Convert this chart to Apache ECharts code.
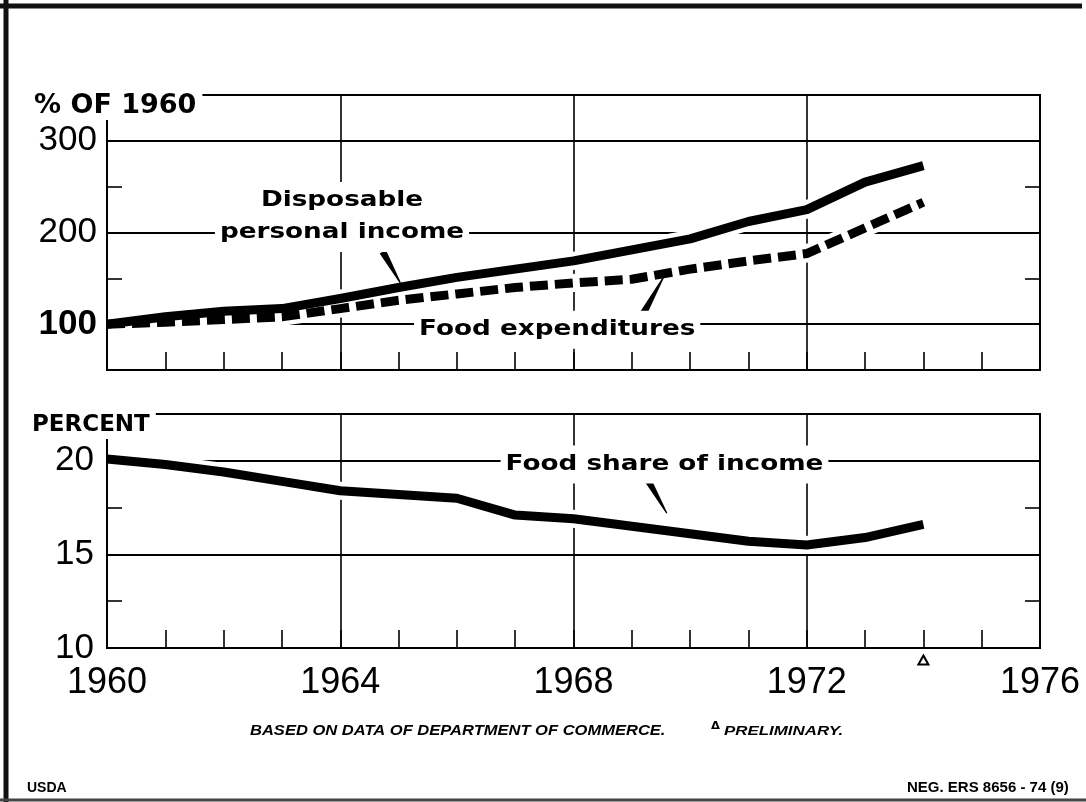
<!DOCTYPE html>
<html>
<head>
<meta charset="utf-8">
<script src="https://cdn.jsdelivr.net/npm/echarts@6/dist/echarts.min.js"></script>
<style>
html,body{margin:0;padding:0;background:#fff;}
#chart{width:1086px;height:802px;}
</style>
</head>
<body>
<div id="chart"></div>
<script>
// ---- data ----
var years = [1960,1961,1962,1963,1964,1965,1966,1967,1968,1969,1970,1971,1972,1973,1974];
var incomeIndex = [100,108,114,117,128,140,151,160,169,181,193,212,225,255,273];
var foodIndex   = [100,102,105,108,117,126,133,140,145,149,160,169,177,205,233];
var foodShare   = [20.1,19.8,19.4,18.9,18.4,18.2,18.0,17.1,16.9,16.5,16.1,15.7,15.5,15.9,16.6];
var xTickLabels = [1960,1964,1968,1972,1976];
var topAxisLabels = [100,200,300];
var bottomAxisLabels = [10,15,20];
var preliminaryYear = 1974;
// annotation anchor points (data coordinates) and texts
var topNotes = [[1964.03,217,'Disposable\npersonal income'],[1967.72,94,'Food expenditures']];
var bottomNotes = [[1969.56,19.8,'Food share of income']];
var topPointers = [[1964.73,179,1965.03,145],[1969.2,112,1969.55,152]];
var bottomPointers = [[1969.27,19.0,1969.6,17.2]];

function pairs(xs, ys){ return xs.map(function(x,i){ return [x, ys[i]]; }); }

var chart = echarts.init(document.getElementById('chart'), null, {renderer:'canvas'});
var BLACK = '#000';
var NUM = "'Liberation Sans', Arial, sans-serif";

function wedge(params, api){
  var a = api.coord([api.value(0), api.value(1)]);
  var b = api.coord([api.value(2), api.value(3)]);
  var dx=b[0]-a[0], dy=b[1]-a[1], L=Math.sqrt(dx*dx+dy*dy)||1;
  var nx=-dy/L, ny=dx/L, w1=3.6, w2=0.6;
  return {type:'polygon', shape:{points:[
    [a[0]+nx*w1,a[1]+ny*w1],[b[0]+nx*w2,b[1]+ny*w2],
    [b[0]-nx*w2,b[1]-ny*w2],[a[0]-nx*w1,a[1]-ny*w1]]},
    style:{fill:BLACK}};
}

function xAxisDef(idx, showLabels){
  return {
    type:'value', gridIndex:idx, min:1960, max:1976, interval:4,
    axisLine:{show:true, lineStyle:{color:BLACK, width:2}},
    axisTick:{show:true, inside:true, length:18, lineStyle:{color:BLACK, width:1.6}},
    minorTick:{show:true, splitNumber:4, length:18, lineStyle:{color:BLACK, width:1.6}},
    splitLine:{show:true, lineStyle:{color:BLACK, width:1.6}},
    axisLabel:{show:showLabels, margin:17, fontFamily:NUM, fontSize:36, color:BLACK,
      formatter:function(v){ return xTickLabels.indexOf(v)>=0 ? String(v) : ''; }}
  };
}

var option = {
  animation:false,
  backgroundColor:'#fff',
  grid:[
    {left:107, right:46, top:95, height:275, show:true, borderColor:BLACK, borderWidth:2},
    {left:107, right:46, top:414, height:234, show:true, borderColor:BLACK, borderWidth:2}
  ],
  xAxis:[ xAxisDef(0,false), xAxisDef(1,true) ],
  yAxis:[
    {
      type:'value', gridIndex:0, min:50, max:350, interval:50, z:3,
      axisLine:{show:true, lineStyle:{color:BLACK, width:2}},
      axisTick:{show:true, inside:true, length:15, lineStyle:{color:BLACK, width:1.6}},
      splitLine:{show:false},
      axisLabel:{margin:10, fontFamily:NUM, fontSize:35, color:BLACK,
        formatter:function(v){ if(topAxisLabels.indexOf(v)<0) return ''; return v===100?'{b|100}':String(v); },
        rich:{b:{fontFamily:NUM, fontSize:35, fontWeight:'bold', color:BLACK}}}
    },
    {
      type:'value', gridIndex:0, min:50, max:350, interval:50, position:'right',
      axisLine:{show:false},
      axisTick:{show:true, inside:true, length:15, lineStyle:{color:BLACK, width:1.6}},
      axisLabel:{show:false},
      splitLine:{show:true, lineStyle:{color:['rgba(0,0,0,0)',BLACK], width:2}}
    },
    {
      type:'value', gridIndex:1, min:10, max:22.5, interval:2.5, z:3,
      axisLine:{show:true, lineStyle:{color:BLACK, width:2}},
      axisTick:{show:true, inside:true, length:15, lineStyle:{color:BLACK, width:1.6}},
      splitLine:{show:false},
      axisLabel:{margin:13, fontFamily:NUM, fontSize:35, color:BLACK,
        formatter:function(v){ return bottomAxisLabels.indexOf(v)>=0 ? String(v) : ''; }}
    },
    {
      type:'value', gridIndex:1, min:10, max:22.5, interval:2.5, position:'right',
      axisLine:{show:false},
      axisTick:{show:true, inside:true, length:15, lineStyle:{color:BLACK, width:1.6}},
      axisLabel:{show:false},
      splitLine:{show:true, lineStyle:{color:[BLACK,'rgba(0,0,0,0)'], width:2}}
    }
  ],
  series:[
    {type:'line', xAxisIndex:0, yAxisIndex:0, z:2, data:pairs(years,incomeIndex), symbol:'none', silent:true,
      lineStyle:{color:'#fff', width:18, cap:'butt', join:'round'}},
    {type:'line', xAxisIndex:0, yAxisIndex:0, z:2, data:pairs(years,foodIndex), symbol:'none', silent:true,
      lineStyle:{color:'#fff', width:18, cap:'butt', join:'round'}},
    {type:'line', xAxisIndex:1, yAxisIndex:2, z:2, data:pairs(years,foodShare), symbol:'none', silent:true,
      lineStyle:{color:'#fff', width:18, cap:'butt', join:'round'}},
    {name:'Disposable personal income', type:'line', xAxisIndex:0, yAxisIndex:0, z:3, data:pairs(years,incomeIndex), symbol:'none',
      lineStyle:{color:BLACK, width:9, cap:'butt', join:'round'}},
    {name:'Food expenditures', type:'line', xAxisIndex:0, yAxisIndex:0, z:3, data:pairs(years,foodIndex), symbol:'none',
      lineStyle:{color:BLACK, width:9, type:[18,7], cap:'butt', join:'miter'}},
    {name:'Food share of income', type:'line', xAxisIndex:1, yAxisIndex:2, z:3, data:pairs(years,foodShare), symbol:'none',
      lineStyle:{color:BLACK, width:9, cap:'butt', join:'round'}},
    {type:'custom', xAxisIndex:0, yAxisIndex:0, z:4, clip:false, renderItem:wedge, data:topPointers, encode:{x:[0,2], y:[1,3]}, silent:true},
    {type:'custom', xAxisIndex:1, yAxisIndex:2, z:4, clip:false, renderItem:wedge, data:bottomPointers, encode:{x:[0,2], y:[1,3]}, silent:true},
    {type:'scatter', xAxisIndex:1, yAxisIndex:2, z:5, clip:false, silent:true, data:[[preliminaryYear,10]],
      symbol:'triangle', symbolSize:[10,9], symbolOffset:[0,12],
      itemStyle:{color:'#fff', borderColor:BLACK, borderWidth:2, opacity:1}}
  ]
};
chart.setOption(option);

// annotation texts placed from data coordinates
var NOTE_FONT = "bold 21px 'DejaVu Sans'";
function noteGraphics(notes, finder){
  return notes.map(function(n){
    var p = chart.convertToPixel(finder, [n[0], n[1]]);
    return {type:'text', z:100, x:p[0], y:p[1], scaleX:1.25, scaleY:1,
      style:{text:n[2], fill:BLACK, font:NOTE_FONT, lineHeight:32,
        textAlign:'center', textVerticalAlign:'middle', align:'center', verticalAlign:'middle',
        backgroundColor:'#fff', padding:[3,4]}};
  });
}
var FOOT = "italic bold 14px 'Liberation Sans', Arial, sans-serif";
var graphics = [
  {type:'line', z:100, shape:{x1:0,y1:6,x2:1082,y2:6}, style:{stroke:'#111', lineWidth:5}},
  {type:'line', z:100, shape:{x1:6,y1:0,x2:6,y2:802}, style:{stroke:'#111', lineWidth:5}},
  {type:'line', z:100, shape:{x1:0,y1:800,x2:1086,y2:800}, style:{stroke:'#444', lineWidth:3}},
  {type:'text', z:100, x:32, y:90, style:{text:'% OF 1960', fill:BLACK, font:"bold 27px 'DejaVu Sans'", backgroundColor:'#fff', padding:[2,6,1,2]}},
  {type:'text', z:100, x:30, y:412, style:{text:'PERCENT', fill:BLACK, font:"bold 23px 'DejaVu Sans'", backgroundColor:'#fff', padding:[2,6,2,2]}},
  {type:'text', z:100, x:250, y:724, scaleX:1.18, style:{text:'BASED ON DATA OF DEPARTMENT OF COMMERCE.', fill:BLACK, font:FOOT}},
  {type:'text', z:100, x:711, y:721, scaleX:1.15, style:{text:'\u0394', fill:BLACK, font:"bold 10px 'DejaVu Sans'"}},
  {type:'text', z:100, x:724, y:725, scaleX:1.3, style:{text:'PRELIMINARY.', fill:BLACK, font:"italic bold 13px 'Liberation Sans', Arial, sans-serif"}},
  {type:'text', z:100, x:27, y:781, style:{text:'USDA', fill:BLACK, font:"bold 14px 'Liberation Sans'"}},
  {type:'text', z:100, x:907, y:780, style:{text:'NEG. ERS 8656 - 74 (9)', fill:BLACK, font:"bold 15px 'Liberation Sans'"}}
].concat(noteGraphics(topNotes, {xAxisIndex:0, yAxisIndex:0}))
 .concat(noteGraphics(bottomNotes, {xAxisIndex:1, yAxisIndex:2}));
chart.setOption({graphic:graphics});
</script>
</body>
</html>
